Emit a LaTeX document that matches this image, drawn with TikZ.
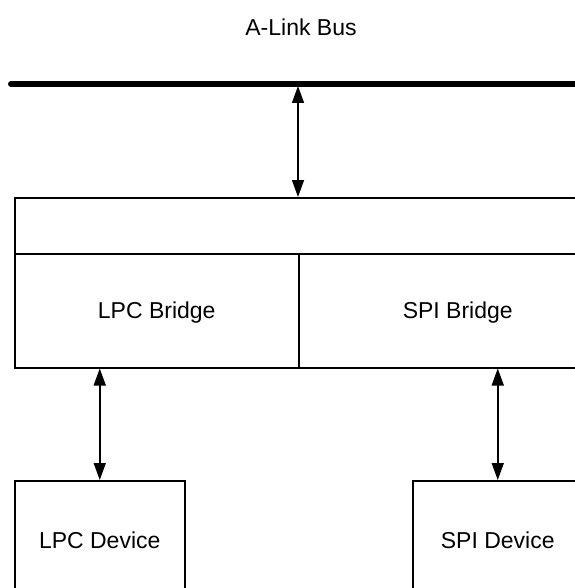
\documentclass[tikz,border=0pt]{standalone}
\usepackage{fontspec}
\setmainfont{Liberation Sans}
\usetikzlibrary{arrows.meta}

\begin{document}
\begin{tikzpicture}[x=1pt,y=-1pt,>={Triangle[length=17pt,width=12pt]},
    box/.style={draw,line width=1.5pt,rectangle,inner sep=0pt,anchor=north west},
    txt/.style={font=\fontsize{23}{27}\selectfont}]
  \useasboundingbox (0,0) rectangle (574,588);
  % bus
  \node[txt] (buslabel) at (301,27) {A-Link Bus};
  \coordinate (busl) at (11,84);
  \coordinate (busr) at (620,84);
  \coordinate (busport) at (298,86);
  \draw[line width=6pt,line cap=round] (busl) -- (busr);
  % bridges
  \node[box,minimum width=606pt,minimum height=56pt] (ctrl) at (14,197) {};
  \node[box,minimum width=284pt,minimum height=114pt] (lpcb) at (14,253) {};
  \node[box,minimum width=318pt,minimum height=114pt] (spib) at (298,253) {};
  \node[txt] at ([yshift=-1.5pt]lpcb.center) {LPC Bridge};
  \node[txt] at ([yshift=-1.5pt]spib.center) {SPI Bridge};
  % devices
  \node[box,minimum width=170pt,minimum height=116pt] (lpcd) at (14,480) {};
  \node[box,minimum width=170pt,minimum height=116pt] (spid) at (412,480) {};
  \node[txt] at ([yshift=-1.5pt]lpcd.center) {LPC Device};
  \node[txt] at ([yshift=-1.5pt]spid.center) {SPI Device};
  % links
  \draw[<->,line width=1.5pt] (busport) -- (busport |- ctrl.north);
  \draw[<->,line width=1.5pt] (lpcd.north |- lpcb.south) -- (lpcd.north);
  \draw[<->,line width=1.5pt] (spid.north |- spib.south) -- (spid.north);
\end{tikzpicture}
\end{document}
